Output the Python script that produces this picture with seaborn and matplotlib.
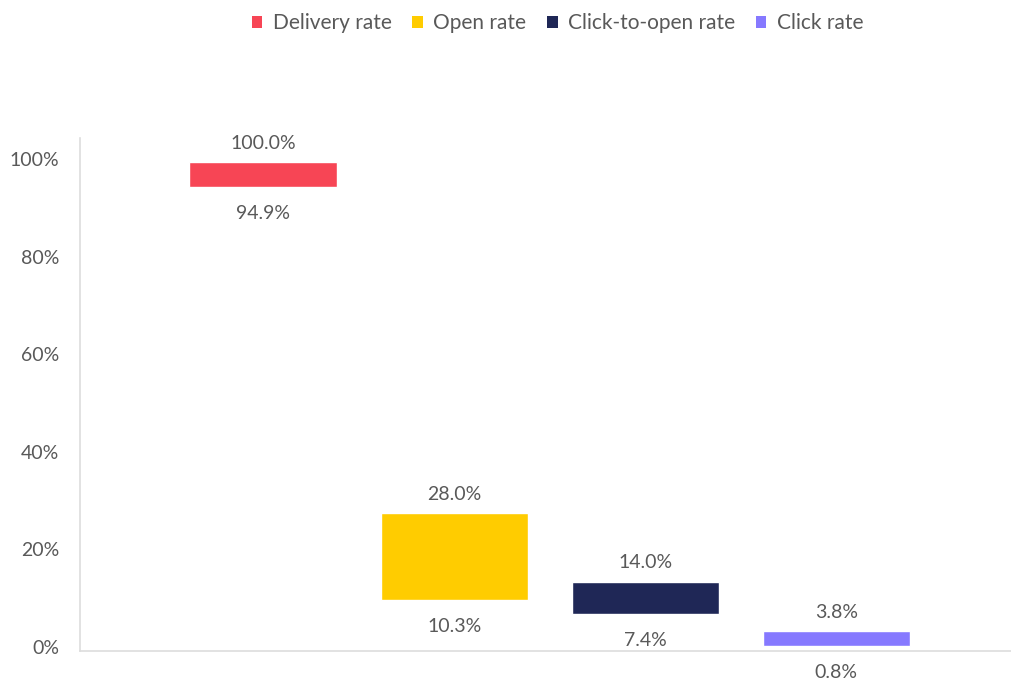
import matplotlib
matplotlib.use("Agg")
import matplotlib.pyplot as plt
import matplotlib.transforms as mtransforms
from matplotlib.patches import Patch
from matplotlib.ticker import FuncFormatter
import seaborn as sns

# data
categories = ["Delivery rate", "Open rate", "Click-to-open rate", "Click rate"]
low_values = [94.9, 10.3, 7.4, 0.8]
high_values = [100.0, 28.0, 14.0, 3.8]
colors = ["#F74555", "#FFCC00", "#1F2756", "#8679FF"]

sns.set_theme(style="white")
plt.rcParams["font.family"] = ["Lato", "DejaVu Sans"]
text_color = "#595959"
fs = 14

fig = plt.figure(figsize=(10.12, 6.91), dpi=100)
ax = fig.add_axes([80 / 1012, 40 / 691, 932 / 1012, (651 - 138) / 691])

heights = [h - l for h, l in zip(high_values, low_values)]
sns.barplot(x=categories, y=heights, hue=categories, palette=colors,
            width=0.77, legend=False, ax=ax, saturation=1)

# move each bar up so it floats between its low and high value
for i, patch in enumerate(ax.patches):
    patch.set_y(low_values[i])
    patch.set_height(heights[i])

for i in range(len(categories)):
    ax.annotate(f"{high_values[i]:.1f}%", (i, high_values[i]), xytext=(0, 13.5),
                textcoords="offset points", ha="center", va="center",
                fontsize=fs, color=text_color)
    ax.annotate(f"{low_values[i]:.1f}%", (i, low_values[i]), xytext=(0, -19),
                textcoords="offset points", ha="center", va="center",
                fontsize=fs, color=text_color)

ax.set_xlim(-0.958, 3.92)
ax.set_ylim(-0.2, 104.9)
ax.set_yticks([0, 20, 40, 60, 80, 100])
ax.yaxis.set_major_formatter(FuncFormatter(lambda v, p: f"{v:.0f}%"))
ax.tick_params(axis="y", length=0, pad=15, labelsize=fs, labelcolor=text_color)
# tick labels sit a little above their position in the original
shift = mtransforms.ScaledTranslation(0, 3 / 100, fig.dpi_scale_trans)
for lbl in ax.get_yticklabels():
    lbl.set_transform(lbl.get_transform() + shift)
ax.set_xticks([])
ax.set_xlabel("")
ax.set_ylabel("")

for side in ["top", "right"]:
    ax.spines[side].set_visible(False)
for side in ["left", "bottom"]:
    ax.spines[side].set_color("#DDDDDD")
    ax.spines[side].set_linewidth(1.2)

handles = [Patch(facecolor=c, edgecolor="none", label=n) for c, n in zip(colors, categories)]
fig.legend(handles=handles, loc="upper center", bbox_to_anchor=(0.551, 1.008), ncol=4,
           frameon=False, fontsize=15, labelcolor=text_color,
           handlelength=0.5, handleheight=0.5, handletextpad=0.5, columnspacing=1.0)

fig.savefig("out.png", dpi=100)
